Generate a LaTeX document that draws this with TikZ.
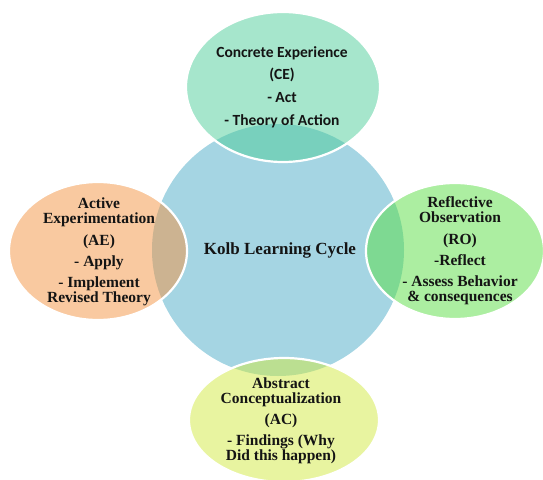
\documentclass[tikz,border=0pt]{standalone}
\usepackage{fontspec}
\newfontfamily\timesfont{Liberation Serif}
\newfontfamily\calibrifont{Carlito}
\usetikzlibrary{shapes.geometric}

% palette
\definecolor{hubC}{RGB}{165,213,227}
\definecolor{ceC}{RGB}{77,205,153}
\definecolor{roC}{RGB}{89,221,67}
\definecolor{acC}{RGB}{209,233,65}
\definecolor{aeC}{RGB}{243,147,65}
\definecolor{inkC}{RGB}{20,20,20}

\tikzset{
  hub/.style={circle, fill=hubC, inner sep=0pt},
  phase/.style={ellipse, fill opacity=0.5, draw=white, line width=2.2pt, inner sep=0pt},
  serifbody/.style={align=center, text=inkC, inner sep=0pt,
    font=\timesfont\bfseries\fontsize{15.5}{15}\selectfont},
  sansbody/.style={align=center, text=inkC, inner sep=0pt,
    font=\calibrifont\bfseries\fontsize{15.5}{22.7}\selectfont},
}

\begin{document}
\begin{tikzpicture}[x=1pt,y=-1pt]
\useasboundingbox (0,0) rectangle (543,479);

% central circle
\node[hub, minimum size=252pt] (hub) at (278,250) {};

% the four phases
\node[phase, fill=ceC, minimum width=194pt, minimum height=150pt] (ce) at (283,87) {};
\node[phase, fill=roC, minimum width=178pt, minimum height=136pt] (ro) at (455,251) {};
\node[phase, fill=acC, minimum width=190pt, minimum height=124pt] (ac) at (284,420) {};
\node[phase, fill=aeC, minimum width=178pt, minimum height=138pt] (ae) at (98,251) {};

% labels
\node[serifbody, font=\timesfont\bfseries\fontsize{17}{17}\selectfont] (hubT) at (280,250) {Kolb Learning Cycle};

\node[sansbody] (ceT) at (282,87) {Concrete Experience\\(CE)\\- Act\\- Theory of Action};

\node[serifbody] (roT) at (460,251) {Reflective\\Observation\\[7pt](RO)\\[6pt]-Reflect\\[6pt]- Assess Behavior\\\& consequences};

\node[serifbody] (acT) at (281,421) {Abstract\\Conceptualization\\[6pt](AC)\\[6pt]- Findings (Why\\Did this happen)};

\node[serifbody] (aeT) at (99,252) {Active\\Experimentation\\[7pt](AE)\\[6pt]- Apply\\[6pt]- Implement\\Revised Theory};
\end{tikzpicture}
\end{document}
